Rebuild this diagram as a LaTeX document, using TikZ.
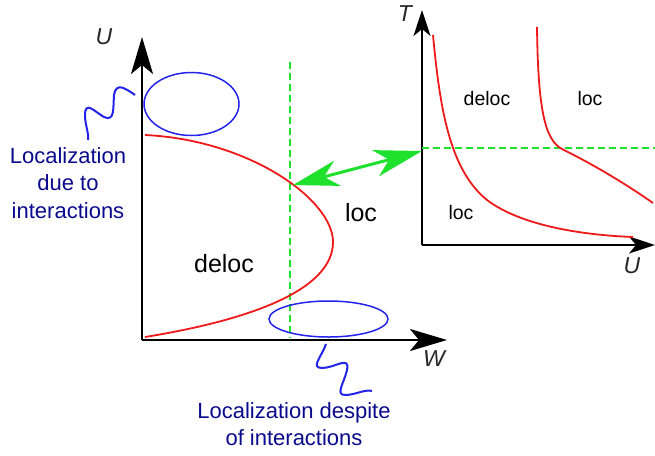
\documentclass[tikz,border=0pt]{standalone}
\usepackage{fontspec}
\setmainfont{Liberation Sans}
\usetikzlibrary{arrows.meta,shapes.geometric}

\definecolor{curvered}{RGB}{240,25,25}
\definecolor{blobblue}{RGB}{35,35,235}
\definecolor{textblue}{RGB}{10,10,140}
\definecolor{cutgreen}{RGB}{30,225,45}

\begin{document}
\begin{tikzpicture}[x=1pt, y=-1pt, semithick]
\tikzstyle{axis}=[draw=black, line width=2.5pt, -{Stealth[length=37pt,width=22pt,inset=9pt]}]
\tikzstyle{small axis}=[draw=black, line width=2pt, -{Stealth[length=26pt,width=17pt,inset=7pt]}]
\tikzstyle{phase}=[draw=curvered, line width=1.8pt]
\tikzstyle{blob}=[draw=blobblue, line width=1.5pt, ellipse, inner sep=0pt]
\tikzstyle{wiggle}=[draw=blobblue, line width=2pt]
\tikzstyle{cut}=[draw=cutgreen, line width=1.8pt, dash pattern=on 7pt off 4pt]
\tikzstyle{bridge}=[draw=cutgreen, line width=3pt,
  {Stealth[length=46pt,width=26pt,inset=14pt]}-{Stealth[length=48pt,width=27pt,inset=14pt]}]
\tikzstyle{big}=[font=\fontsize{25}{30}\selectfont]
\tikzstyle{mid}=[font=\fontsize{19.5}{24}\selectfont]
\tikzstyle{axlabel}=[font=\fontsize{23}{28}\selectfont\itshape, text=black!85]
\tikzstyle{note}=[font=\fontsize{22}{27.5}\selectfont, text=textblue, align=center]

\useasboundingbox (0,0) rectangle (655,455);

% left diagram: U vs W
\coordinate (o1) at (142,340);
\coordinate (uTop) at (142,37);
\coordinate (wEnd) at (447,340);
\draw[axis] (o1) -- (uTop);
\draw[axis] (o1) -- (wEnd);
\node[axlabel] (labU) at (104,37) {U};
\node[axlabel] (labW) at (434,359) {W};

\coordinate (cutTop) at (290,62);
\coordinate (cutBot) at (290,338);
\draw[cut] (cutTop) -- (cutBot);

\draw[phase] (145,135) .. controls (250,140) and (333,200) .. (333,242)
  .. controls (333,290) and (250,320) .. (145,337);

\node[big] (delocL) at (224,264) {deloc};
\node[big] (locL) at (361,213) {loc};

% regions of localization
\node[blob, minimum width=95pt, minimum height=63pt] (blobU) at (191.5,104) {};
\node[blob, minimum width=119pt, minimum height=36pt] (blobW) at (328.5,319) {};

\node[note] (dueTo) at (68,183) {Localization\\due to\\interactions};
\node[note] (despite) at (294,424) {Localization despite\\of interactions};

\coordinate (wigU) at (135,95);
\coordinate (wigW) at (326,344);
\draw[wiggle] (wigU) .. controls (125,88) and (116,82) .. (114,95)
  .. controls (113,108) and (115,122) .. (104,117)
  .. controls (95,112) and (85,100) .. (85,115)
  .. controls (85,125) and (89,133) .. (88,140);
\draw[wiggle] (wigW) .. controls (322,356) and (310,368) .. (322,368)
  .. controls (335,368) and (350,355) .. (347,370)
  .. controls (344,383) and (335,395) .. (345,395)
  .. controls (355,395) and (365,389) .. (372,391);

% right diagram: T vs U
\coordinate (o2) at (422,245);
\coordinate (tTop) at (422,10);
\coordinate (uEnd) at (655,245);
\draw[small axis] (o2) -- (tTop);
\draw[small axis] (o2) -- (uEnd);
\node[axlabel] (labT) at (405,14) {T};
\node[axlabel] (labU2) at (632,266) {U};

\coordinate (thr) at (422,148);
\coordinate (thrEnd) at (655,148);
\draw[cut] (thr) -- (thrEnd);

\draw[phase] (433,35) .. controls (440,110) and (450,170) .. (487,200)
  .. controls (520,225) and (580,235) .. (633,237);
\draw[phase] (537,27) .. controls (538,110) and (545,140) .. (562,149)
  .. controls (590,163) and (620,180) .. (653,203);

\node[mid] (delocR) at (487,99) {deloc};
\node[mid] (locR) at (590,99) {loc};
\node[mid] (locR2) at (461,213) {loc};

% link between the two pictures
\coordinate (cross) at (293,185);
\coordinate (thrTip) at (422,151);
\draw[bridge] (cross) -- (thrTip);
\end{tikzpicture}
\end{document}
